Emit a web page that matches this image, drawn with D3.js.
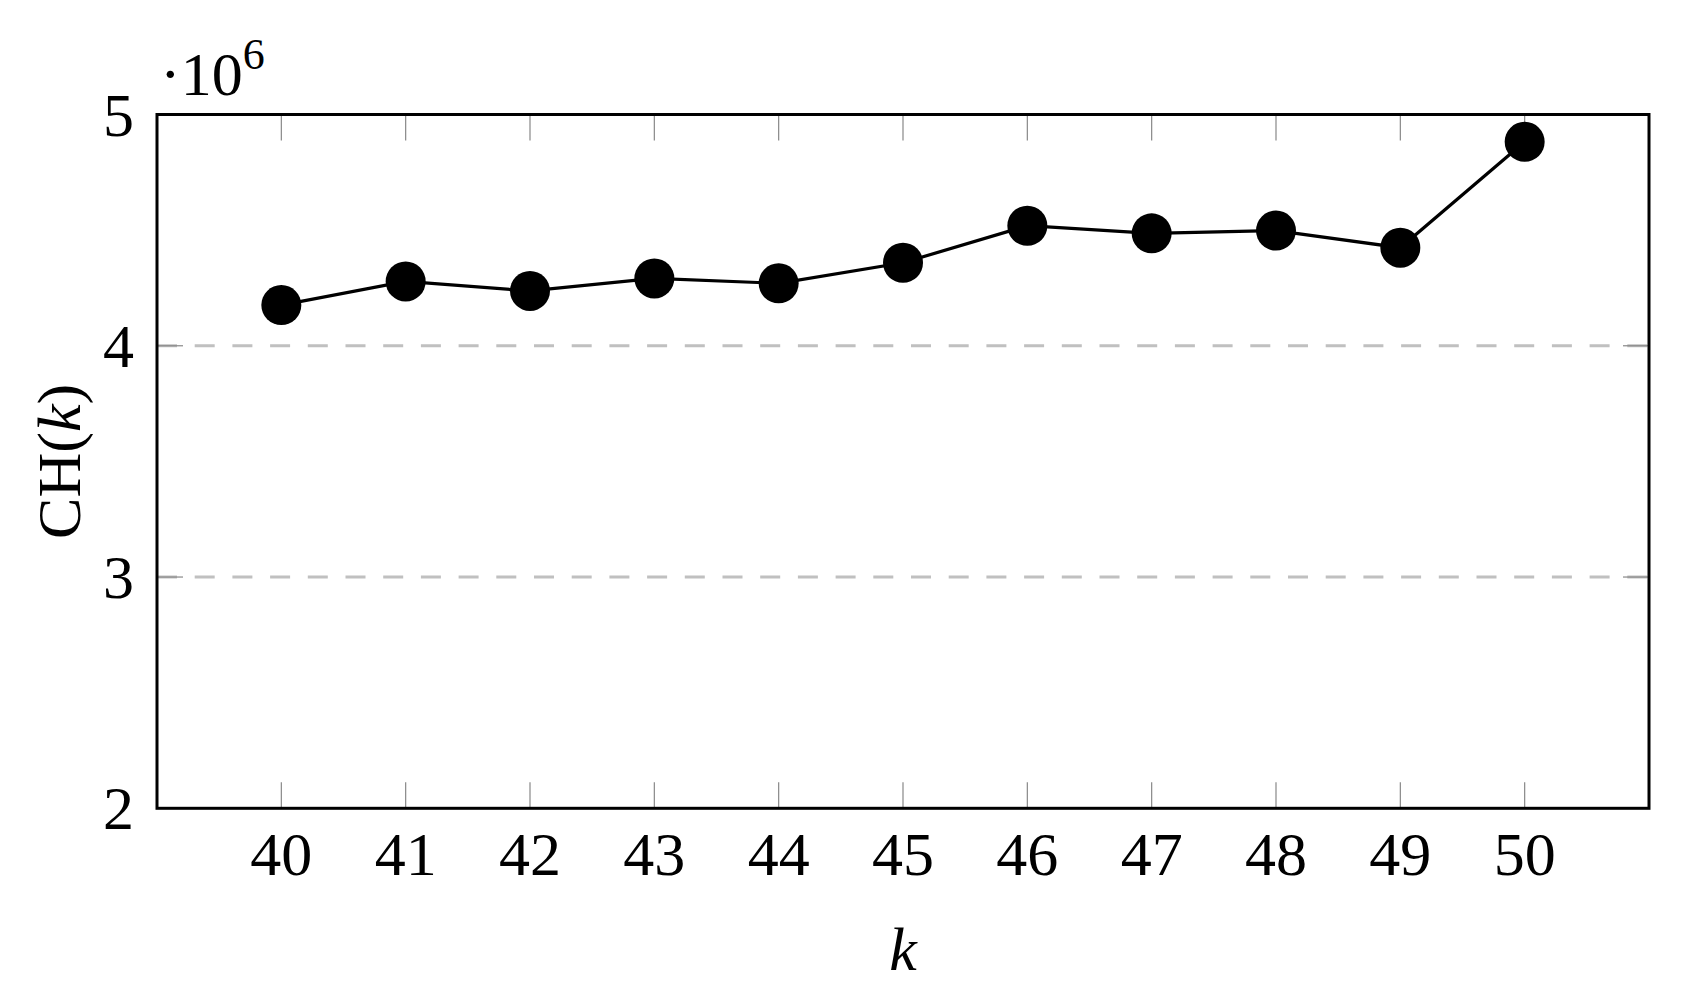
<!DOCTYPE html>
<html>
<head>
<meta charset="utf-8">
<script src="https://cdn.jsdelivr.net/npm/d3@7"></script>
<style>
  html, body { margin: 0; padding: 0; background: #fff; }
  svg { display: block; }
  text { font-family: "Liberation Serif", "DejaVu Serif", serif; fill: #000; }
</style>
</head>
<body>
<svg id="chart" width="1681" height="1004"></svg>
<script>
// ---- data ----
const ks = [40, 41, 42, 43, 44, 45, 46, 47, 48, 49, 50];
const chValues = [4.176, 4.278, 4.237, 4.291, 4.270, 4.359, 4.519, 4.486, 4.498, 4.424, 4.882]; // ×10^6
const yTicks = [2, 3, 4, 5];
const yGrid = [3, 4];
const xLabel = "k";
const yLabel = "CH(k)";

// ---- layout ----
const svg = d3.select("#chart");
const pLeft = 157, pRight = 1649, pTop = 114.5, pBottom = 808.3;

const x = d3.scaleLinear().domain([39, 51]).range([pLeft, pRight]);
const y = d3.scaleLinear().domain([2, 5]).range([pBottom, pTop]);

// grid lines
svg.append("g").selectAll("line").data(yGrid).join("line")
  .attr("x1", pLeft).attr("x2", pRight)
  .attr("y1", d => y(d)).attr("y2", d => y(d))
  .attr("stroke", "#c0c0c0").attr("stroke-width", 3)
  .attr("stroke-dasharray", "20 17.7");

// ticks (inside, gray) on all four sides
const tickLen = 26;
const tg = svg.append("g").attr("stroke", "#888").attr("stroke-width", 1.2);
ks.forEach(k => {
  tg.append("line").attr("x1", x(k)).attr("x2", x(k)).attr("y1", pBottom).attr("y2", pBottom - tickLen);
  tg.append("line").attr("x1", x(k)).attr("x2", x(k)).attr("y1", pTop).attr("y2", pTop + tickLen);
});
yTicks.forEach(v => {
  tg.append("line").attr("x1", pLeft).attr("x2", pLeft + tickLen).attr("y1", y(v)).attr("y2", y(v));
  tg.append("line").attr("x1", pRight).attr("x2", pRight - tickLen).attr("y1", y(v)).attr("y2", y(v));
});

// frame
svg.append("rect")
  .attr("x", pLeft).attr("y", pTop)
  .attr("width", pRight - pLeft).attr("height", pBottom - pTop)
  .attr("fill", "none").attr("stroke", "#000").attr("stroke-width", 3);

// line
const line = d3.line().x((d, i) => x(ks[i])).y(d => y(d));
svg.append("path").datum(chValues)
  .attr("d", line).attr("fill", "none")
  .attr("stroke", "#000").attr("stroke-width", 3.2);

// markers
svg.append("g").selectAll("circle").data(chValues).join("circle")
  .attr("cx", (d, i) => x(ks[i])).attr("cy", d => y(d))
  .attr("r", 20).attr("fill", "#000");

// x tick labels
svg.append("g").selectAll("text").data(ks).join("text")
  .attr("x", d => x(d)).attr("y", 875)
  .attr("text-anchor", "middle").attr("font-size", 62)
  .text(d => d);

// y tick labels
svg.append("g").selectAll("text").data(yTicks).join("text")
  .attr("x", 134).attr("y", d => y(d) + 21)
  .attr("text-anchor", "end").attr("font-size", 62)
  .text(d => d);

// multiplier
const mult = svg.append("text").attr("x", 160).attr("y", 95).attr("font-size", 62);
mult.append("tspan").text("·10");
mult.append("tspan").attr("font-size", 44).attr("dy", -26).text("6");

// axis labels
svg.append("text").attr("x", (pLeft + pRight) / 2).attr("y", 970)
  .attr("text-anchor", "middle").attr("font-size", 62)
  .attr("font-style", "italic").text(xLabel);

const yl = svg.append("text")
  .attr("transform", `translate(80, ${(pTop + pBottom) / 2}) rotate(-90)`)
  .attr("text-anchor", "middle").attr("font-size", 62);
yl.append("tspan").text("CH(");
yl.append("tspan").attr("font-style", "italic").text("k");
yl.append("tspan").text(")");
</script>
</body>
</html>
